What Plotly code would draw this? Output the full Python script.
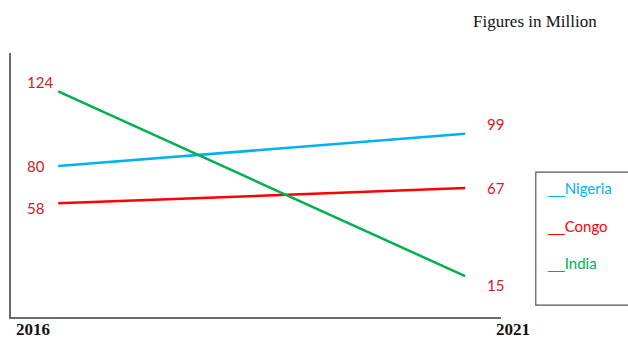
import plotly.graph_objects as go

years = [2016, 2021]
series_names = ["Nigeria", "Congo", "India"]
nigeria = [80, 99]
congo = [58, 67]
india = [124, 15]
colors = ["#00b0f0", "#ff0000", "#00b050"]
label_color = "#cc2229"
title_text = "Figures in Million"

values = [nigeria, congo, india]
# vertical offsets (px) of the value labels relative to line ends
label_dy = [[0, 10], [-5, 0], [9, -9]]

fig = go.Figure()
for name, vals, col in zip(series_names, values, colors):
    fig.add_trace(go.Scatter(x=years, y=vals, mode="lines", name=name,
                             line=dict(color=col, width=2.5), showlegend=False,
                             hoverinfo="skip"))

annotations = []
for vals, dys in zip(values, label_dy):
    annotations.append(dict(x=years[0], y=vals[0], text=str(vals[0]), showarrow=False,
                            xanchor="left", xshift=-33, yshift=dys[0],
                            font=dict(family="Lato, Carlito, sans-serif", size=15, color=label_color)))
    annotations.append(dict(x=years[1], y=vals[1], text=str(vals[1]), showarrow=False,
                            xanchor="left", xshift=20, yshift=dys[1],
                            font=dict(family="Lato, Carlito, sans-serif", size=15, color=label_color)))

# year labels
for xp, yr in [(0.045, years[0]), (1.024, years[1])]:
    annotations.append(dict(xref="paper", yref="paper", x=xp, y=-0.0871, text="<b>%d</b>" % yr,
                            xanchor="center", yanchor="bottom", borderpad=0,
                            showarrow=False, font=dict(family="Liberation Serif", size=17, color="#111")))
# title
annotations.append(dict(xref="paper", yref="paper", x=1.069, y=1.121, text=title_text,
                        xanchor="center", yanchor="middle",
                        showarrow=False, font=dict(family="Liberation Serif", size=17, color="#111")))
# legend texts
leg_y = [0.489, 0.345, 0.2045]
for name, col, ly in zip(series_names, colors, leg_y):
    annotations.append(dict(xref="paper", yref="paper", x=1.0898, y=ly,
                            text="<span style='font-family:Liberation Sans'>__</span>" + name,
                            xanchor="left", yanchor="middle", showarrow=False,
                            font=dict(family="Lato, Carlito, sans-serif", size=15, color=col)))

fig.update_layout(
    width=628, height=340,
    margin=dict(l=11, r=127, t=53, b=23),
    paper_bgcolor="white", plot_bgcolor="white",
    xaxis=dict(range=[2015.42, 2021.44], showgrid=False, zeroline=False, showticklabels=False,
               ticks="", showline=True, linecolor="#6b6b6b", linewidth=1.5),
    yaxis=dict(range=[-9.1, 146.7], showgrid=False, zeroline=False, showticklabels=False,
               ticks="", showline=True, linecolor="#6b6b6b", linewidth=1.5),
    annotations=annotations,
    shapes=[dict(type="rect", xref="paper", yref="paper", x0=1.071, x1=1.3, y0=0.045, y1=0.549,
                 line=dict(color="#555", width=1.2), fillcolor="rgba(0,0,0,0)")],
)

fig.write_html("out.html")
